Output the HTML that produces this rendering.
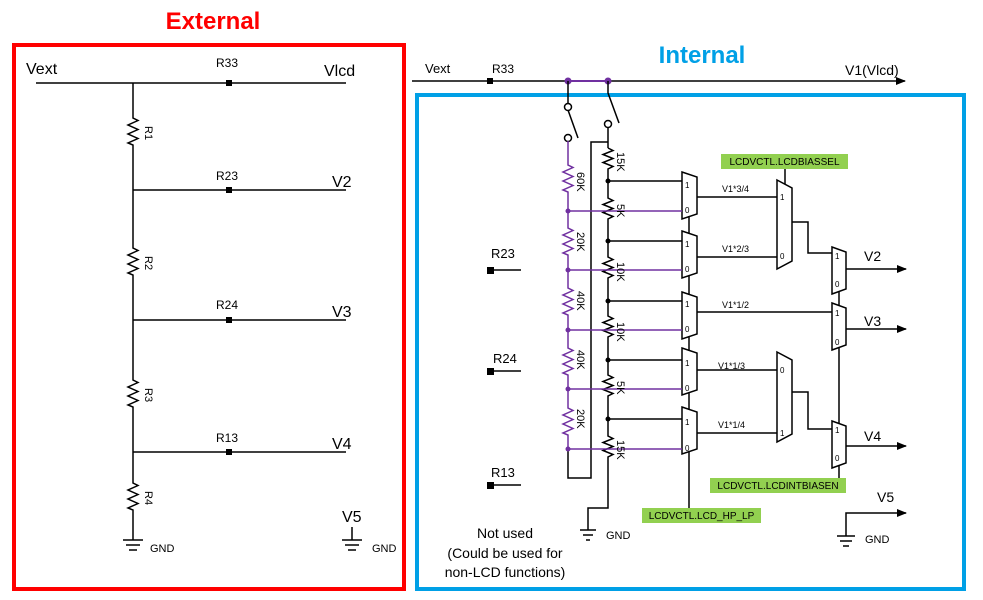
<!DOCTYPE html>
<html><head><meta charset="utf-8"><style>
html,body{margin:0;padding:0;background:#fff}
svg{display:block}
text{font-family:"Liberation Sans",sans-serif}
</style></head><body>
<svg width="983" height="600" viewBox="0 0 983 600" xmlns="http://www.w3.org/2000/svg">
<defs>
<marker id="ar" markerWidth="10" markerHeight="8" refX="9" refY="4" orient="auto" markerUnits="userSpaceOnUse"><path d="M0 0L10 4L0 8Z" fill="#000"/></marker>
</defs>
<text x="213" y="29" font-size="24" font-weight="bold" fill="#f00" text-anchor="middle">External</text>
<text x="702" y="63" font-size="24" font-weight="bold" fill="#00a0e6" text-anchor="middle">Internal</text>
<rect x="14" y="45" width="390" height="544" fill="none" stroke="#f00" stroke-width="4"/>
<rect x="417" y="95" width="547" height="494" fill="none" stroke="#00a0e6" stroke-width="4"/>

<g stroke="#000" stroke-width="1.5" fill="none">
<path d="M36 83H346"/>
<path d="M133 83V118 l5 2.5 l-10 4.5 l10 4.5 l-10 4.5 l10 4.5 l-10 4.5 l5 2 V248 l5 2.5 l-10 4.5 l10 4.5 l-10 4.5 l10 4.5 l-10 4.5 l5 2 V380 l5 2.5 l-10 4.5 l10 4.5 l-10 4.5 l10 4.5 l-10 4.5 l5 2 V483 l5 2.5 l-10 4.5 l10 4.5 l-10 4.5 l10 4.5 l-10 4.5 l5 2 V540"/>
<path d="M133 190H346M133 320H346M133 452H346"/>
<path d="M123 540h20M126 545h14M129 550h8"/>
<path d="M352 527V540M342 540h20M345 545h14M348 550h8"/>
</g>
<g fill="#000">
<rect x="226" y="80" width="6" height="6"/><rect x="226" y="187" width="6" height="6"/><rect x="226" y="317" width="6" height="6"/><rect x="226" y="449" width="6" height="6"/>
</g>
<g font-size="16" fill="#000">
<text x="26" y="74">Vext</text><text x="324" y="76">Vlcd</text>
<text x="332" y="187">V2</text><text x="332" y="317">V3</text><text x="332" y="449">V4</text>
<text x="342" y="522">V5</text>
</g>
<g font-size="12" fill="#000">
<text x="216" y="67">R33</text><text x="216" y="180">R23</text><text x="216" y="309">R24</text><text x="216" y="442">R13</text>
<text x="150" y="552" font-size="11">GND</text><text x="372" y="552" font-size="11">GND</text>
</g>
<g font-size="11" fill="#000">
<text transform="translate(145,126) rotate(90)">R1</text>
<text transform="translate(145,256) rotate(90)">R2</text>
<text transform="translate(145,388) rotate(90)">R3</text>
<text transform="translate(145,491) rotate(90)">R4</text>
</g>

<g stroke="#000" stroke-width="1.5" fill="none">
<path d="M412 81H905" marker-end="url(#ar)"/>
</g>
<rect x="487" y="78" width="6" height="6" fill="#000"/>
<text x="425" y="73" font-size="13">Vext</text>
<text x="492" y="73" font-size="12">R33</text>
<text x="845" y="75" font-size="14">V1(Vlcd)</text>
<path d="M568 81H608" stroke="#7030a0" stroke-width="2"/>
<circle cx="568" cy="81" r="3.5" fill="#7030a0"/><circle cx="608" cy="81" r="3.5" fill="#7030a0"/>

<g stroke="#000" stroke-width="1.5" fill="none">
<path d="M568 81V104"/><circle cx="568" cy="107" r="3.5"/><path d="M568 110L578 138"/><circle cx="568" cy="138" r="3.5"/>
<path d="M608 81V93L619 123"/><circle cx="608" cy="124" r="3.5"/><path d="M608 128V148"/>
<path d="M608 142H591V478H568V449"/>
<path d="M608 148 l5 2.5 l-10 4 l10 4 l-10 4 l10 4 l-5 2.5 V198 l5 2.5 l-10 4 l10 4 l-10 4 l10 4 l-5 2.5 V257 l5 2.5 l-10 4 l10 4 l-10 4 l10 4 l-5 2.5 V316 l5 2.5 l-10 4 l10 4 l-10 4 l10 4 l-5 2.5 V375 l5 2.5 l-10 4 l10 4 l-10 4 l10 4 l-5 2.5 V436 l5 2.5 l-10 4 l10 4 l-10 4 l10 4 l-5 2.5 V508H588V530"/>
<path d="M580 530h16M583 535h10M586 540h4"/>
<path d="M608 181H682M608 241H682M608 301H682M608 360H682M608 419H682"/>
<path d="M682 172L697 177V214L682 219Z"/>
<path d="M682 231L697 236V273L682 278Z"/>
<path d="M682 292L697 297V334L682 339Z"/>
<path d="M682 348L697 353V390L682 395Z"/>
<path d="M682 407L697 412V449L682 454Z"/>
<path d="M689 216V234M689 276V295M689 337V351M689 393V410M689 452V508"/>
<path d="M697 197H777M697 257H777M697 312H832M697 370H777M697 433H777"/>
<path d="M777 180L792 188V261L777 269Z"/>
<path d="M777 352L792 360V434L777 442Z"/>
<path d="M785 169V184"/>
<path d="M792 222H808V253H832M792 392H808V429H832"/>
<path d="M832 247L846 252V289L832 294Z"/>
<path d="M832 303L846 308V345L832 350Z"/>
<path d="M832 421L846 426V463L832 468Z"/>
<path d="M839 292V305M839 348V423M839 466V478"/>
<path d="M846 269H906" marker-end="url(#ar)"/>
<path d="M846 329H906" marker-end="url(#ar)"/>
<path d="M846 446H906" marker-end="url(#ar)"/>
<path d="M846 536V513H906" marker-end="url(#ar)"/>
<path d="M837 536h18M840 541h12M843 546h6"/>
<path d="M492 270H521M492 371H521M492 485H521"/>
</g>
<g fill="#000">
<rect x="487" y="267" width="7" height="7"/><rect x="487" y="368" width="7" height="7"/><rect x="487" y="482" width="7" height="7"/>
<circle cx="608" cy="181" r="2.5"/><circle cx="608" cy="241" r="2.5"/><circle cx="608" cy="301" r="2.5"/><circle cx="608" cy="360" r="2.5"/><circle cx="608" cy="419" r="2.5"/>
</g>
<g font-size="13" fill="#000">
<text x="491" y="258">R23</text><text x="493" y="363">R24</text><text x="491" y="477">R13</text>
</g>
<g stroke="#7030a0" stroke-width="1.5" fill="none">
<path d="M568 141V165 l5 2.5 l-10 4.5 l10 4.5 l-10 4.5 l10 4.5 l-10 4.5 l5 2 V228 l5 2.5 l-10 4.5 l10 4.5 l-10 4.5 l10 4.5 l-10 4.5 l5 2 V288 l5 2.5 l-10 4.5 l10 4.5 l-10 4.5 l10 4.5 l-10 4.5 l5 2 V348 l5 2.5 l-10 4.5 l10 4.5 l-10 4.5 l10 4.5 l-10 4.5 l5 2 V408 l5 2.5 l-10 4.5 l10 4.5 l-10 4.5 l10 4.5 l-10 4.5 l5 2 V449"/>
<path d="M568 211H682M568 270H682M568 330H682M568 389H682M568 449H682"/>
</g>
<g fill="#7030a0"><circle cx="568" cy="211" r="2.5"/><circle cx="568" cy="270" r="2.5"/><circle cx="568" cy="330" r="2.5"/><circle cx="568" cy="389" r="2.5"/><circle cx="568" cy="449" r="2.5"/></g>
<g font-size="11" fill="#000">
<text transform="translate(577,172) rotate(90)">60K</text>
<text transform="translate(577,232) rotate(90)">20K</text>
<text transform="translate(577,291) rotate(90)">40K</text>
<text transform="translate(577,350) rotate(90)">40K</text>
<text transform="translate(577,409) rotate(90)">20K</text>
<text transform="translate(617,152) rotate(90)">15K</text>
<text transform="translate(617,204) rotate(90)">5K</text>
<text transform="translate(617,262) rotate(90)">10K</text>
<text transform="translate(617,322) rotate(90)">10K</text>
<text transform="translate(617,381) rotate(90)">5K</text>
<text transform="translate(617,440) rotate(90)">15K</text>
</g>
<g font-size="8" fill="#000">
<text x="685" y="188">1</text><text x="685" y="213">0</text>
<text x="685" y="247">1</text><text x="685" y="272">0</text>
<text x="685" y="307">1</text><text x="685" y="332">0</text>
<text x="685" y="366">1</text><text x="685" y="391">0</text>
<text x="685" y="425">1</text><text x="685" y="451">0</text>
<text x="780" y="200">1</text><text x="780" y="259">0</text>
<text x="780" y="373">0</text><text x="780" y="436">1</text>
<text x="835" y="259">1</text><text x="835" y="287">0</text>
<text x="835" y="316">1</text><text x="835" y="345">0</text>
<text x="835" y="433">1</text><text x="835" y="461">0</text>
</g>
<g font-size="9" fill="#000">
<text x="722" y="192">V1*3/4</text><text x="722" y="252">V1*2/3</text><text x="722" y="308">V1*1/2</text>
<text x="718" y="369">V1*1/3</text><text x="718" y="428">V1*1/4</text>
</g>
<g font-size="14" fill="#000">
<text x="864" y="261">V2</text><text x="864" y="326">V3</text><text x="864" y="441">V4</text><text x="877" y="502">V5</text>
</g>
<text x="606" y="539" font-size="11">GND</text>
<text x="865" y="543" font-size="11">GND</text>
<rect x="721" y="154" width="127" height="15" fill="#92d050"/>
<text x="784.5" y="165" font-size="10" text-anchor="middle">LCDVCTL.LCDBIASSEL</text>
<rect x="710" y="478" width="136" height="15" fill="#92d050"/>
<text x="778" y="489" font-size="10" text-anchor="middle">LCDVCTL.LCDINTBIASEN</text>
<rect x="642" y="508" width="119" height="15" fill="#92d050"/>
<text x="701.5" y="519" font-size="10" text-anchor="middle">LCDVCTL.LCD_HP_LP</text>
<g font-size="14" fill="#000" text-anchor="middle">
<text x="505" y="538">Not used</text>
<text x="505" y="558">(Could be used for</text>
<text x="505" y="577">non-LCD functions)</text>
</g>
</svg>
</body></html>
